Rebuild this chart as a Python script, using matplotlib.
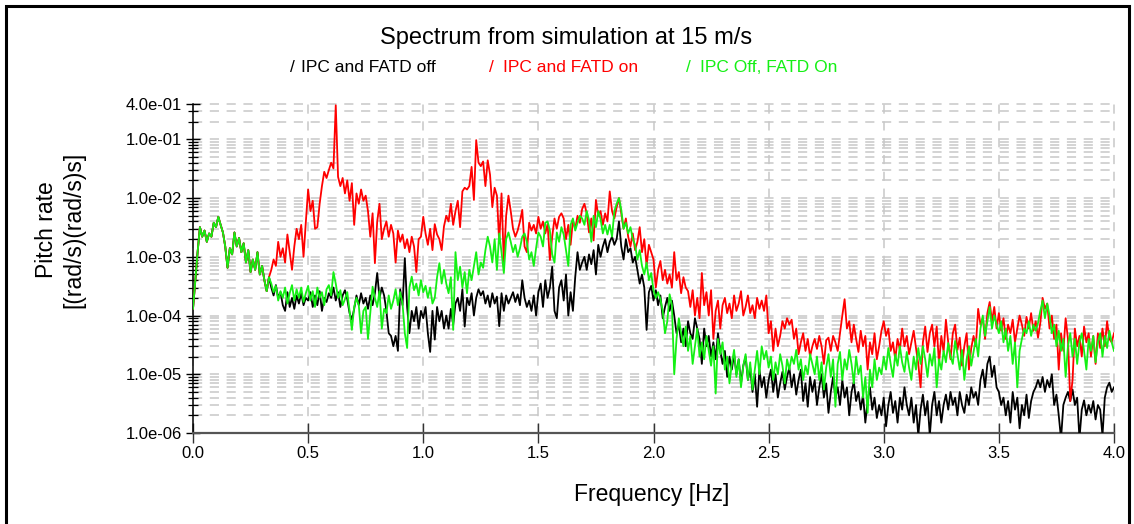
import numpy as np
import matplotlib
matplotlib.use("Agg")
import matplotlib.pyplot as plt
from matplotlib.lines import Line2D
from matplotlib.ticker import FixedLocator, NullFormatter

plt.rcParams['font.family'] = ['Liberation Sans', 'DejaVu Sans']

# Frequency grid of the spectra [Hz]
freq_step = 0.01
n_points = 401

# Low-frequency part (0.00 - 0.33 Hz), common to all three runs
shared_low = [
    1.3e-4, 4e-4, 1.2e-3, 3.2e-3, 2.2e-3, 2.8e-3, 1.8e-3, 2.5e-3, 2.2e-3, 3.8e-3,
    3.2e-3, 4.8e-3, 3.5e-3, 2.6e-3, 1.5e-3, 6.5e-4, 1.4e-3, 1.1e-3, 2.6e-3, 1.5e-3,
    2.1e-3, 1.2e-3, 1.7e-3, 8e-4, 1.3e-3, 5.5e-4, 9e-4, 6e-4, 1.2e-3, 5e-4,
    7e-4, 4e-4, 2.6e-4, 4.5e-4,
]

# IPC and FATD off, 0.34 - 4.00 Hz
black_tail = [
    3e-4, 2.2e-4, 3.3e-4, 2e-4, 2.5e-4, 1.5e-4,
    1.2e-4, 2.5e-4, 1.4e-4, 2e-4, 1.3e-4, 2.2e-4, 1.6e-4, 2.4e-4, 1.5e-4, 2e-4,
    1.8e-4, 2.5e-4, 1.4e-4, 2.2e-4, 1.5e-4, 2.6e-4, 1.2e-4, 2e-4, 1.7e-4, 2.4e-4,
    2e-4, 3e-4, 1.8e-4, 2.5e-4, 1.4e-4, 2.2e-4, 2.7e-4, 1.9e-4, 1.1e-4, 8.5e-5,
    1.3e-4, 2.2e-4, 1.5e-4, 2.4e-4, 1.6e-4, 2e-4, 1.3e-4, 2.2e-4, 1.5e-4, 2.4e-4,
    5.3e-4, 2e-4, 3e-4, 2.2e-4, 1.2e-4, 5e-5, 4.5e-5, 3e-5, 4.5e-5, 2.5e-5,
    2.8e-4, 1.5e-4, 9.5e-4, 1.4e-4, 5e-5, 1.2e-4, 8e-5, 1.4e-4, 6e-5, 1.2e-4,
    9e-5, 1.4e-4, 5e-5, 2.4e-5, 1.2e-4, 3.9e-5, 1.4e-4, 8e-5, 1.2e-4, 6e-5,
    1e-4, 6e-5, 1.3e-4, 7e-5, 1.6e-4, 2e-4, 1.2e-4, 2.8e-4, 6.5e-5, 2e-4,
    1.5e-4, 2.4e-4, 1e-4, 2e-4, 2.8e-4, 2.2e-4, 2.6e-4, 1.6e-4, 2.2e-4, 1.4e-4,
    2.4e-4, 1.6e-4, 2.1e-4, 6.6e-5, 2.4e-4, 1.2e-4, 2.2e-4, 1.6e-4, 2e-4, 2.5e-4,
    1.7e-4, 2.3e-4, 1.5e-4, 4e-4, 2e-4, 1.4e-4, 1.8e-4, 1.2e-4, 2.2e-4, 1e-4,
    2.5e-4, 3.5e-4, 1.4e-4, 4e-4, 2e-4, 3e-4, 6.8e-4, 1.2e-4, 9e-5, 3e-4,
    4e-4, 1.8e-4, 5e-4, 1e-4, 2.5e-4, 1.2e-4, 4.5e-4, 1.2e-3, 6e-4, 8e-4,
    1e-3, 6e-4, 1.1e-3, 7.5e-4, 1.3e-3, 5e-4, 1.6e-3, 1e-3, 1.5e-3, 2e-3,
    1.2e-3, 1.8e-3, 2.2e-3, 1.6e-3, 2e-3, 4e-3, 1.5e-3, 9e-4, 2e-3, 1.2e-3,
    1.4e-3, 8e-4, 1e-3, 6e-4, 3.5e-4, 5e-4, 3e-4, 5.7e-5, 2.5e-4, 3.2e-4,
    1.8e-4, 2.7e-4, 1.5e-4, 2.2e-4, 9e-5, 1.4e-4, 2e-4, 1.2e-4, 1.8e-4, 1e-4,
    5e-5, 7e-5, 3.5e-5, 6e-5, 3e-5, 8e-5, 5e-5, 4e-5, 9e-5, 6e-5,
    4e-5, 1.5e-5, 6e-5, 3e-5, 4.5e-5, 2e-5, 3.5e-5, 1.8e-5, 5e-5, 2.5e-5,
    1.5e-5, 2.5e-5, 9e-6, 2e-5, 1.2e-5, 2.2e-5, 1e-5, 1.8e-5, 7e-6, 1.4e-5,
    2e-5, 8e-6, 1.3e-5, 5e-6, 1e-5, 2.8e-6, 1.2e-5, 6e-6, 9e-6, 4e-6,
    8e-6, 1.2e-5, 5e-6, 1e-5, 4e-6, 7e-6, 1.1e-5, 5.5e-6, 9e-6, 1.3e-5,
    6e-6, 1e-5, 4.5e-6, 8e-6, 1.2e-5, 3.5e-6, 7e-6, 2.8e-6, 9e-6, 5e-6,
    8e-6, 3e-6, 6e-6, 1e-5, 4e-6, 7e-6, 2.2e-6, 5e-6, 9e-6, 4e-6,
    6e-6, 3e-6, 8e-6, 4e-6, 6e-6, 2e-6, 5e-6, 7.5e-6, 3.5e-6, 5e-6,
    2.5e-6, 4.5e-6, 1.5e-6, 3.5e-6, 6e-6, 2.5e-6, 4e-6, 1.8e-6, 3e-6, 2e-6,
    4e-6, 1.3e-6, 3e-6, 5e-6, 2.2e-6, 3.5e-6, 1.5e-6, 4e-6, 2.5e-6, 6e-6,
    3e-6, 2e-6, 4e-6, 1.5e-6, 3e-6, 9e-7, 2.5e-6, 4.5e-6, 2e-6, 3.5e-6,
    9e-7, 3e-6, 5e-6, 2e-6, 3.5e-6, 1.5e-6, 3e-6, 4.5e-6, 2.5e-6, 5e-6,
    3e-6, 4e-6, 2e-6, 5e-6, 3e-6, 2.2e-6, 4.5e-6, 3e-6, 6e-6, 4e-6,
    5e-6, 3e-6, 8e-6, 1.2e-5, 6e-6, 1.5e-5, 2e-5, 9e-6, 1.4e-5, 6e-6,
    5e-6, 3e-6, 4e-6, 2e-6, 3.5e-6, 1.5e-6, 5e-6, 2.5e-6, 4e-6, 1.2e-6,
    3e-6, 2e-6, 4.5e-6, 1.8e-6, 3.5e-6, 5e-6, 6e-6, 8e-6, 6e-6, 9e-6,
    5e-6, 8e-6, 6e-6, 1e-5, 3e-6, 4.5e-6, 2e-6, 8e-7, 3e-6, 4e-6,
    5e-6, 3.5e-6, 5.5e-6, 3e-6, 4e-6, 8e-7, 2.5e-6, 3.6e-6, 2e-6, 3e-6,
    2.2e-6, 3.5e-6, 1.7e-6, 3e-6, 2.5e-6, 9e-7, 4e-6, 6e-6, 7.2e-6, 5e-6,
    6e-6,
]

# IPC and FATD on, 0.34 - 4.00 Hz
red_tail = [
    6e-4, 9e-4, 7e-4, 1.8e-3, 1e-3, 1.4e-3,
    8e-4, 2.4e-3, 1.2e-3, 6e-4, 1.5e-3, 3e-3, 2e-3, 3.5e-3, 1e-3, 3.9e-3,
    1.4e-2, 6e-3, 9e-3, 3e-3, 3.2e-3, 8e-3, 1.6e-2, 2.8e-2, 2.2e-2, 3e-2,
    4e-2, 3.2e-2, 3.8e-1, 2.3e-2, 1.6e-2, 2.2e-2, 1.2e-2, 2e-2, 9e-3, 1.8e-2,
    3.5e-3, 1.2e-2, 8e-3, 1.4e-2, 9e-3, 1.1e-2, 6e-3, 2.2e-3, 5.5e-3, 7.8e-4,
    4e-3, 8e-3, 2e-3, 3e-3, 4e-3, 2.2e-3, 3.5e-3, 2.5e-3, 8e-4, 2.8e-3,
    1.8e-3, 2.4e-3, 1.4e-3, 2e-3, 1.2e-3, 2.2e-3, 1.5e-3, 5.5e-4, 2e-3, 2.2e-3,
    4.8e-3, 2.5e-3, 1.6e-3, 3e-3, 1.3e-3, 3.6e-3, 2.4e-3, 2e-3, 1.3e-3, 3.3e-3,
    5e-3, 4e-3, 8e-3, 3.5e-3, 6e-3, 9e-3, 3.2e-3, 1.3e-2, 1.5e-2, 1.4e-2,
    1.6e-2, 3.4e-2, 9.3e-3, 9.7e-2, 4e-2, 3.5e-2, 4.2e-2, 1.6e-2, 4.4e-2, 2.5e-2,
    7e-3, 1.5e-2, 1.1e-2, 1.7e-3, 1.2e-2, 7.8e-4, 5e-3, 1.1e-2, 6e-3, 3e-3,
    2.2e-3, 2.8e-3, 4e-3, 6.3e-3, 1.5e-3, 1.2e-3, 3.8e-3, 2.8e-3, 3.5e-3, 2.5e-3,
    4.8e-3, 3e-3, 4e-3, 2.5e-3, 3.6e-3, 8.8e-4, 2.2e-3, 4.5e-3, 3e-3, 4.8e-3,
    5.5e-3, 4.5e-3, 2e-3, 3.5e-3, 1.6e-3, 4.2e-3, 3e-3, 5e-3, 3.8e-3, 6.5e-3,
    8e-3, 5.5e-3, 2.6e-3, 4.5e-3, 1.9e-3, 9.3e-3, 5e-3, 6e-3, 3.5e-3, 5.5e-3,
    4e-3, 1.3e-2, 6e-3, 4.5e-3, 7e-3, 1e-2, 5.5e-3, 3e-3, 4.5e-3, 2.2e-3,
    1.5e-3, 2.5e-3, 1.3e-3, 1.8e-3, 3.2e-3, 1.2e-3, 2e-3, 7e-4, 1.6e-3, 1.2e-3,
    9e-4, 3e-4, 6e-4, 8.5e-4, 4e-4, 6e-4, 3.5e-4, 5e-4, 3e-4, 1.2e-3,
    4e-4, 5.5e-4, 2.4e-4, 4.5e-4, 3e-4, 2.6e-4, 1.4e-4, 2.7e-4, 1e-4, 2e-4,
    9e-5, 5.3e-4, 1.5e-4, 2.5e-4, 1e-4, 2.7e-4, 4e-5, 1.2e-4, 1.8e-4, 6e-5,
    1.5e-4, 2e-4, 1.1e-4, 1.6e-4, 9e-5, 2.2e-4, 1.2e-4, 1.6e-4, 2.6e-4, 1e-4,
    1.4e-4, 2.2e-4, 1.1e-4, 1.5e-4, 9e-5, 2e-4, 1.3e-4, 1.8e-4, 1.2e-4, 2.2e-4,
    5e-5, 8e-5, 2.5e-5, 6e-5, 3e-5, 4.5e-5, 8e-5, 6e-5, 9e-5, 7e-5,
    8.5e-5, 4e-5, 6e-5, 2.2e-5, 3.5e-5, 5e-5, 2.5e-5, 4e-5, 2e-5, 3e-5,
    4e-5, 2.7e-5, 4.5e-5, 3e-5, 1.5e-5, 3.8e-5, 4.2e-5, 2.5e-5, 4.5e-5, 3.5e-5,
    2.5e-5, 5e-5, 1e-4, 1.9e-4, 6e-5, 8e-5, 3.5e-5, 7e-5, 4e-5, 2.4e-5,
    5.5e-5, 3e-5, 4.5e-5, 1.2e-5, 3.5e-5, 2.2e-5, 5e-5, 1.8e-5, 3e-5, 5.5e-5,
    8e-5, 4.5e-5, 6e-5, 2.5e-5, 3.5e-5, 1.8e-5, 4e-5, 2.6e-5, 6e-5, 3e-5,
    4.5e-5, 2.2e-5, 3.5e-5, 5.5e-5, 2.8e-5, 1.5e-5, 6e-6, 3.5e-5, 6.5e-5, 2.4e-5,
    5e-5, 7e-5, 3e-5, 6.5e-5, 1.5e-5, 4.5e-5, 2.4e-5, 8.5e-5, 3.5e-5, 1.8e-5,
    5e-5, 7e-5, 2.6e-5, 4.2e-5, 1.4e-5, 3e-5, 5e-5, 1.2e-5, 2.8e-5, 4.5e-5,
    3e-5, 1.3e-4, 7e-5, 9e-5, 4e-5, 1.1e-4, 1.7e-4, 8e-5, 1.4e-4, 6e-5,
    1.1e-4, 5.5e-5, 9e-5, 4e-5, 7e-5, 5e-5, 8.5e-5, 3.5e-5, 6e-5, 1e-4,
    7e-5, 4.5e-5, 9.5e-5, 6e-5, 1.1e-4, 5.5e-5, 8e-5, 4.2e-5, 7.5e-5, 2e-4,
    1.3e-4, 1.6e-4, 6e-5, 1e-4, 4e-5, 7e-5, 1.2e-5, 5e-5, 2.5e-5, 9e-5,
    4e-5, 3.5e-6, 8e-6, 6e-5, 3e-5, 4.5e-5, 2e-5, 6.5e-5, 3.5e-5, 5e-5,
    2e-5, 4.5e-5, 1.5e-5, 5e-5, 2.8e-5, 6e-5, 3e-5, 8e-5, 4e-5, 3.5e-5,
    5e-5,
]

# IPC off, FATD on, 0.34 - 4.00 Hz
green_tail = [
    3.5e-4, 2.5e-4, 3.2e-4, 1.8e-4, 2.6e-4, 2e-4,
    3e-4, 1.6e-4, 2.4e-4, 3.3e-4, 1.8e-4, 2.8e-4, 2e-4, 3e-4, 1.7e-4, 2.4e-4,
    3.2e-4, 1.8e-4, 2.6e-4, 1.4e-4, 3e-4, 2e-4, 2.5e-4, 1.5e-4, 2.8e-4, 3.3e-4,
    2.2e-4, 5.5e-4, 3.5e-4, 2e-4, 2.7e-4, 1.5e-4, 1.9e-4, 2.5e-4, 1.2e-4, 5.7e-5,
    1.4e-4, 2e-4, 1.5e-4, 5e-5, 1.2e-4, 1.4e-4, 4e-5, 1.1e-4, 3.1e-4, 2e-4,
    1.4e-4, 2.6e-4, 6e-5, 1.3e-4, 1.1e-4, 2.2e-4, 1.3e-4, 1.8e-4, 2.8e-4, 1.5e-4,
    2.5e-4, 1.6e-4, 5e-5, 2.8e-5, 3e-4, 4.6e-4, 2.7e-4, 3.5e-4, 2.2e-4, 4e-4,
    2.5e-4, 3.2e-4, 2e-4, 3e-4, 1.6e-4, 2e-4, 4.5e-4, 7.8e-4, 3.5e-4, 6e-4,
    3.5e-4, 2.4e-4, 4.5e-4, 5.7e-5, 1.2e-3, 4e-4, 6.8e-4, 3e-4, 5.5e-4, 2.4e-4,
    6e-4, 4e-4, 7e-4, 1.2e-3, 5e-4, 8e-4, 6.5e-4, 1.3e-3, 2.2e-3, 1.5e-3,
    8e-4, 2e-3, 6e-4, 2.5e-3, 1.2e-3, 5.3e-4, 2e-3, 2.6e-3, 1.8e-3, 1.2e-3,
    1.6e-3, 1e-3, 1.4e-3, 2.2e-3, 2.5e-3, 1.8e-3, 9e-4, 1.2e-3, 7e-4, 1.4e-3,
    2.6e-3, 2.2e-3, 1.5e-3, 3.8e-3, 4e-3, 2.8e-3, 1.1e-3, 8e-4, 2.6e-3, 1.8e-3,
    3.2e-3, 2.4e-3, 1.3e-3, 7e-4, 3.5e-3, 4.5e-3, 2.8e-3, 3.8e-3, 5e-3, 4.5e-3,
    3.5e-3, 6e-3, 4.2e-3, 1.8e-3, 5e-3, 3.2e-3, 6e-3, 4.4e-3, 2.5e-3, 3.5e-3,
    2.4e-3, 3.5e-3, 2.2e-3, 6e-3, 8e-3, 1e-2, 6.3e-3, 3e-3, 3.8e-3, 2.5e-3,
    3.2e-3, 2e-3, 1.6e-3, 9e-4, 1.3e-3, 7e-4, 5e-4, 8e-4, 4e-4, 5.3e-4,
    2.7e-4, 2e-4, 2.5e-4, 1.9e-4, 1.2e-4, 5e-5, 8e-5, 2.3e-4, 1.5e-4, 1e-5,
    4e-5, 9e-5, 5e-5, 3e-5, 6.5e-5, 2.5e-5, 4.5e-5, 1.5e-5, 3e-5, 6e-5,
    2e-5, 3.5e-5, 1.8e-5, 4.5e-5, 2.5e-5, 1.4e-5, 3e-5, 4.7e-6, 4e-5, 2.2e-5,
    3.5e-5, 1.2e-5, 2e-5, 7e-6, 1.5e-5, 2.6e-5, 9e-6, 1.8e-5, 6e-6, 1.4e-5,
    2.2e-5, 8e-6, 1.6e-5, 5.5e-6, 1.2e-5, 2.5e-5, 1e-5, 3e-5, 1.8e-5, 2.5e-5,
    1.3e-5, 2e-5, 8e-6, 1.6e-5, 1e-5, 2.2e-5, 1.4e-5, 7e-6, 1.8e-5, 1.2e-5,
    2e-5, 1.5e-5, 2.6e-5, 1.2e-5, 1.8e-5, 8e-6, 1.4e-5, 1e-5, 2.2e-5, 1.5e-5,
    1e-5, 2e-5, 8e-6, 1.6e-5, 5.5e-6, 1.3e-5, 2.2e-5, 9e-6, 1.8e-5, 2.8e-6,
    1.5e-5, 2.4e-5, 8e-6, 1.8e-5, 1.2e-5, 2.6e-5, 1.5e-5, 7e-6, 2e-5, 1e-5,
    1.4e-5, 4e-6, 9e-6, 2.2e-6, 1.2e-5, 6e-6, 1.8e-5, 8e-6, 1.3e-5, 1e-5,
    2e-5, 1.2e-5, 2.8e-5, 1.5e-5, 9e-6, 2.2e-5, 1.4e-5, 3e-5, 1.6e-5, 1.1e-5,
    2.4e-5, 1.3e-5, 8e-6, 2e-5, 1.2e-5, 2.8e-5, 1.5e-5, 3e-5, 1.8e-5, 9e-6,
    2.2e-5, 1.4e-5, 2.8e-5, 6e-6, 1.8e-5, 1.2e-5, 2.5e-5, 1.6e-5, 3.4e-5, 2e-5,
    1.5e-5, 3.7e-5, 2.2e-5, 1.2e-5, 2.6e-5, 8e-6, 1.8e-5, 3e-5, 1.4e-5, 2.4e-5,
    4e-5, 2e-5, 6e-5, 1e-4, 4.5e-5, 8e-5, 1.4e-4, 6e-5, 1e-4, 7e-5,
    5e-5, 8e-5, 3.5e-5, 6e-5, 2.5e-5, 4.5e-5, 1.5e-5, 3.5e-5, 6e-6, 2.5e-5,
    4e-5, 6e-5, 5e-5, 8e-5, 4.5e-5, 7e-5, 5.5e-5, 7.5e-5, 1.2e-4, 1.8e-4,
    9e-5, 1.6e-4, 1e-4, 5e-5, 7e-5, 3e-5, 5.5e-5, 2.5e-5, 4e-5, 9e-6,
    3e-5, 5e-5, 2e-5, 4e-5, 1.5e-5, 3.5e-5, 5e-5, 2.5e-5, 1.2e-5, 4e-5,
    2.5e-5, 4.5e-5, 1.6e-5, 3.5e-5, 5e-5, 2e-5, 4.5e-5, 2.8e-5, 5.5e-5, 3.5e-5,
    2.5e-5,
]

series_labels = ["IPC and FATD off", "IPC and FATD on", "IPC Off, FATD On"]
series_colors = ["#000000", "#FF0000", "#14F014"]

x_ticks = [0.0, 0.5, 1.0, 1.5, 2.0, 2.5, 3.0, 3.5, 4.0]
y_major = [1e-6, 1e-5, 1e-4, 1e-3, 1e-2, 1e-1, 4e-1]

series = [shared_low + black_tail, shared_low + red_tail, shared_low + green_tail]
for s in series:
    assert len(s) == n_points, len(s)
freq = np.arange(n_points) * freq_step

W, H = 1134, 524
fig = plt.figure(figsize=(W / 100, H / 100), dpi=100)
ax_l, ax_r, ax_t, ax_b = 193, 1114, 104, 433
ax = fig.add_axes([ax_l / W, 1 - ax_b / H, (ax_r - ax_l) / W, (ax_b - ax_t) / H])

grid_kw = dict(color="#C8C8C8", linewidth=1.1, linestyle=(0, (6, 5)))
ax.set_yscale("log")
ax.set_xlim(0, 4)
ax.set_ylim(1e-6, 4e-1)

y_minor = [k * 10.0 ** e for e in range(-6, 0) for k in range(2, 10) if k * 10.0 ** e < 4e-1]
ax.yaxis.set_major_locator(FixedLocator(y_major))
ax.yaxis.set_minor_locator(FixedLocator(y_minor))
ax.yaxis.set_minor_formatter(NullFormatter())
ax.set_yticklabels([f"{v:.1e}" for v in y_major])
ax.set_xticks(x_ticks)
ax.set_xticklabels([f"{v:.1f}" for v in x_ticks])

ax.grid(True, which="both", axis="y", **grid_kw)
ax.grid(True, which="major", axis="x", **grid_kw)
for gl in ax.get_xgridlines() + ax.get_ygridlines():
    gl.set_clip_on(False)

for s, c in zip(series, series_colors):
    ax.plot(freq, s, color=c, linewidth=1.3, zorder=3)

for side in ("top", "right"):
    ax.spines[side].set_visible(False)
ax.spines["left"].set_color("#000000")
ax.spines["left"].set_linewidth(1.1)
ax.spines["bottom"].set_color("#555555")
ax.spines["bottom"].set_linewidth(1.6)

ax.tick_params(axis="y", which="major", direction="inout", length=10, width=1.0,
               labelsize=12, pad=3, colors="#000000")
ax.tick_params(axis="y", which="minor", direction="inout", length=7, width=0.9,
               colors="#000000")
ax.tick_params(axis="x", which="major", direction="inout", length=14, width=1.0,
               labelsize=12, pad=2, color="#333333")

# Title, legend row and axis labels
fig.text(566 / W, 1 - 38 / H, "Spectrum from simulation at 15 m/s",
         fontsize=17, ha="center", va="center")
marker_x = [292, 491, 688]
label_x = [301, 503, 700]
for mx, lx, lab, c in zip(marker_x, label_x, series_labels, series_colors):
    fig.text(mx / W, 1 - 68 / H, "/", color=c, fontsize=12.5, ha="center", va="center")
    fig.text(lx / W, 1 - 68 / H, lab, color=c, fontsize=12.5, ha="left", va="center")

fig.text(60 / W, 1 - 230 / H, "Pitch rate\n[(rad/s)(rad/s)s]", rotation=90,
         fontsize=16.5, ha="center", va="center", multialignment="center",
         linespacing=1.25)
fig.text(652 / W, 1 - 495 / H, "Frequency [Hz]", fontsize=16.5, ha="center", va="center")

# Frame round the whole figure
fx0, fx1, fy1 = 6 / W, 1129 / W, 1 - 6 / H
fig.add_artist(Line2D([fx0, fx0, fx1, fx1], [0, fy1, fy1, 0],
                      transform=fig.transFigure, color="#000000", linewidth=2.2,
                      solid_joinstyle="miter"))

fig.savefig("out.png", dpi=100)
